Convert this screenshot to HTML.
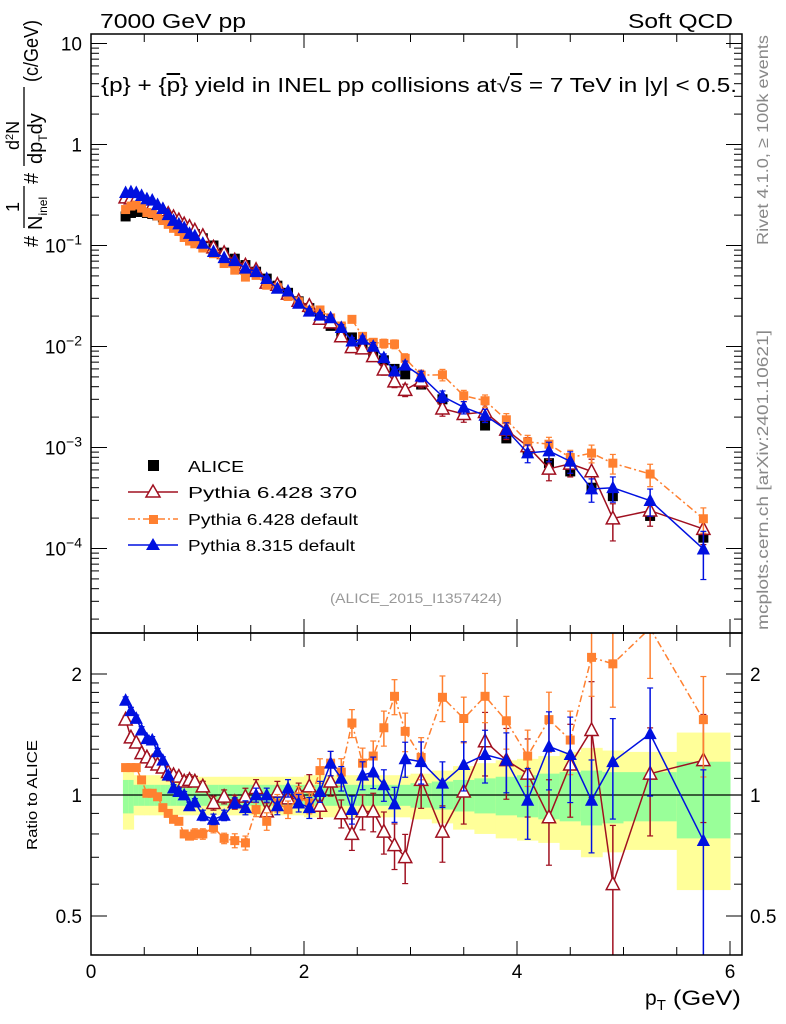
<!DOCTYPE html>
<html><head><meta charset="utf-8"><style>
html,body{margin:0;padding:0;background:#fff;}
svg{display:block;font-family:"Liberation Sans",Arial,sans-serif;}
</style></head><body>
<svg id="chart" width="786" height="1024" viewBox="0 0 786 1024">
<rect x="0" y="0" width="786" height="1024" fill="#fff"/>
<g id="bands"></g>
<g id="grid"></g>
<g id="series"></g>
<g id="axes"></g>
<text x="100" y="28" font-size="20" textLength="146" lengthAdjust="spacingAndGlyphs">7000 GeV pp</text>
<text x="628" y="28" font-size="20" textLength="105" lengthAdjust="spacingAndGlyphs">Soft QCD</text>
<text x="101" y="92" font-size="20" textLength="636" lengthAdjust="spacingAndGlyphs">{p} + {<tspan text-decoration="overline">p</tspan>} yield in INEL pp collisions at√<tspan text-decoration="overline">s</tspan> =  7 TeV in |y| &lt; 0.5.</text>
<text transform="translate(768,245) rotate(-90)" font-size="16" fill="#888" textLength="210" lengthAdjust="spacingAndGlyphs">Rivet 4.1.0, ≥ 100k events</text>
<text transform="translate(768,630) rotate(-90)" font-size="16" fill="#888" textLength="300" lengthAdjust="spacingAndGlyphs">mcplots.cern.ch [arXiv:2401.10621]</text>
<text x="330" y="603" font-size="14" fill="#999" textLength="172" lengthAdjust="spacingAndGlyphs">(ALICE_2015_I1357424)</text>
<g transform="rotate(-90)" font-size="20">
<text x="-247" y="38">#</text>
<text x="-212" y="19" font-size="18">1</text>
<line x1="-228" y1="24" x2="-186" y2="24" stroke="#000" stroke-width="1.3"/>
<text x="-230" y="42">N<tspan font-size="12" dy="5">inel</tspan></text>
<text x="-184" y="38">#</text>
<text x="-150" y="19" font-size="18">d<tspan font-size="11" dy="-6">2</tspan><tspan dy="6">N</tspan></text>
<line x1="-166" y1="24" x2="-87" y2="24" stroke="#000" stroke-width="1.3"/>
<text x="-164" y="42">dp<tspan font-size="12" dy="5">T</tspan><tspan dy="-5">dy</tspan></text>
<text x="-82" y="38" textLength="62" lengthAdjust="spacingAndGlyphs">(c/GeV)</text>
</g>
<text transform="translate(37,850) rotate(-90)" font-size="15" textLength="110" lengthAdjust="spacingAndGlyphs">Ratio to ALICE</text>
<text x="645" y="1005" font-size="21">p<tspan font-size="15" dy="5">T</tspan><tspan dy="-5" textLength="75" lengthAdjust="spacingAndGlyphs"> (GeV)</tspan></text>
<g id="legend">
<rect x="148" y="460" width="11" height="11" fill="#000"/>
<text x="188" y="472" font-size="16" textLength="56" lengthAdjust="spacingAndGlyphs">ALICE</text>
<line x1="128" y1="492" x2="178" y2="492" stroke="#a01020" stroke-width="1.5"/>
<polygon points="153,485 160,497 146,497" fill="#fff" stroke="#a01020" stroke-width="1.5"/>
<text x="188" y="498" font-size="16" textLength="169" lengthAdjust="spacingAndGlyphs">Pythia 6.428 370</text>
<line x1="128" y1="519" x2="178" y2="519" stroke="#ff8030" stroke-width="1.5" stroke-dasharray="7,3,2,3"/>
<rect x="149" y="515" width="9" height="9" fill="#ff8030"/>
<text x="188" y="525" font-size="16" textLength="170" lengthAdjust="spacingAndGlyphs">Pythia 6.428 default</text>
<line x1="128" y1="545" x2="178" y2="545" stroke="#0010e0" stroke-width="1.5"/>
<polygon points="153,538 160,550 146,550" fill="#0010e0"/>
<text x="188" y="551" font-size="16" textLength="167" lengthAdjust="spacingAndGlyphs">Pythia 8.315 default</text>
</g>
</svg>
<script>
const edges=[0.3,0.35,0.4,0.45,0.5,0.55,0.6,0.65,0.7,0.75,0.8,0.85,0.9,0.95,1.0,1.1,1.2,1.3,1.4,1.5,1.6,1.7,1.8,1.9,2.0,2.1,2.2,2.3,2.4,2.5,2.6,2.7,2.8,2.9,3.0,3.2,3.4,3.6,3.8,4.0,4.2,4.4,4.6,4.8,5.0,5.5,6.0];
const alice=[0.194,0.21,0.215,0.215,0.21,0.205,0.198,0.19,0.18,0.17,0.16,0.15,0.14,0.13,
0.118,0.100,0.085,0.074,0.064,0.055,0.047,0.040,0.034,0.028,
0.024,0.020,0.016,0.014,0.0123,0.0105,0.0088,0.0073,0.006,0.0053,
0.0042,0.0030,0.0021,0.00165,0.00123,0.00091,0.00070,0.00058,0.00040,0.00033,0.00021,0.000128];
const ratioP8=[1.72,1.62,1.55,1.45,1.38,1.37,1.28,1.22,1.12,1.04,1.02,1.0,0.94,0.96,
0.89,0.87,0.89,0.955,0.93,1.0,1.0,0.94,1.04,0.955,
0.93,1.02,1.20,1.10,0.92,1.12,1.14,1.06,0.95,1.23,
1.21,1.07,1.19,1.26,1.22,0.97,1.32,1.26,0.97,1.21,1.42,0.77];
const ratioP6a=[1.54,1.39,1.35,1.27,1.24,1.21,1.19,1.17,1.14,1.12,1.11,1.08,1.09,1.08,
1.05,0.955,0.99,0.96,0.99,1.04,0.91,1.02,0.98,1.01,
1.05,0.94,1.08,0.90,0.80,0.91,0.91,0.81,0.75,0.70,
1.09,0.81,1.02,1.36,1.22,1.13,0.88,1.19,1.45,0.60,1.13,1.22];
const ratioP6d=[1.17,1.17,1.17,1.09,1.01,1.01,0.99,0.93,0.90,0.87,0.86,0.80,0.79,0.80,
0.80,0.83,0.78,0.77,0.76,0.92,0.86,0.955,0.92,0.99,
0.955,1.15,1.2,1.14,1.51,1.20,1.25,1.47,1.76,1.44,
1.24,1.75,1.55,1.76,1.53,1.25,1.54,1.37,2.2,2.12,2.6,1.54];
const errP8=[0.02,0.02,0.02,0.02,0.02,0.02,0.02,0.02,0.02,0.02,0.02,0.02,0.02,0.02,
0.03,0.03,0.03,0.03,0.04,0.04,0.04,0.05,0.05,0.05,
0.06,0.06,0.07,0.07,0.08,0.08,0.09,0.09,0.10,0.10,
0.12,0.13,0.14,0.15,0.17,0.20,0.22,0.24,0.26,0.28,0.30,0.50];
const errP6a=[0.02,0.02,0.02,0.02,0.02,0.02,0.02,0.02,0.02,0.02,0.02,0.03,0.03,0.03,
0.03,0.04,0.04,0.04,0.05,0.05,0.05,0.06,0.06,0.06,
0.07,0.07,0.08,0.08,0.09,0.10,0.11,0.12,0.13,0.14,
0.15,0.16,0.17,0.18,0.20,0.22,0.24,0.26,0.32,0.40,0.30,0.30];
const errP6d=[0.02,0.02,0.02,0.02,0.02,0.02,0.02,0.02,0.02,0.02,0.02,0.02,0.02,0.03,
0.03,0.03,0.03,0.04,0.04,0.04,0.05,0.05,0.05,0.06,
0.06,0.07,0.07,0.08,0.08,0.09,0.09,0.10,0.10,0.11,
0.12,0.13,0.13,0.14,0.15,0.16,0.17,0.18,0.20,0.22,0.25,0.28];
const yelHi=[1.14,1.14,1.12,1.12,1.12,1.12,1.12,1.12,1.12,1.12,1.12,1.12,1.12,1.12,
1.11,1.11,1.11,1.11,1.11,1.11,1.11,1.11,1.11,1.11,
1.12,1.12,1.12,1.12,1.12,1.12,1.12,1.12,1.12,1.12,
1.13,1.15,1.18,1.20,1.22,1.23,1.25,1.28,1.31,1.29,1.28,1.43];
const yelLo=[0.82,0.82,0.89,0.89,0.89,0.89,0.89,0.89,0.89,0.89,0.89,0.89,0.89,0.89,
0.89,0.89,0.89,0.89,0.89,0.89,0.89,0.89,0.89,0.89,
0.88,0.88,0.88,0.88,0.88,0.88,0.88,0.88,0.88,0.88,
0.87,0.85,0.82,0.80,0.78,0.77,0.76,0.73,0.70,0.72,0.73,0.58];
const grnHi=[1.09,1.09,1.06,1.06,1.06,1.06,1.06,1.06,1.06,1.06,1.06,1.06,1.06,1.06,
1.06,1.06,1.06,1.06,1.06,1.06,1.06,1.06,1.06,1.06,
1.06,1.06,1.06,1.06,1.06,1.06,1.06,1.06,1.06,1.06,
1.07,1.08,1.09,1.10,1.11,1.12,1.13,1.14,1.15,1.14,1.14,1.21];
const grnLo=[0.90,0.90,0.94,0.94,0.94,0.94,0.94,0.94,0.94,0.94,0.94,0.94,0.94,0.94,
0.94,0.94,0.94,0.94,0.94,0.94,0.94,0.94,0.94,0.94,
0.94,0.94,0.94,0.94,0.94,0.94,0.94,0.94,0.94,0.94,
0.93,0.92,0.91,0.90,0.89,0.88,0.87,0.86,0.84,0.85,0.86,0.78];
const xTicks=[0,2,4,6];
const yTopTicks=[10,1,0.1,0.01,0.001,0.0001];
const yTopLabels=["10","1","10^-1","10^-2","10^-3","10^-4"];
const ratioTicks=[0.5,1,2];
const ratioLabels=["0.5","1","2"];

const NS="http://www.w3.org/2000/svg";
const L=91,R=742,T=34,M=633,B=955;
const X=v=>L+v*106.5;
const YT=v=>144.5-101*Math.log10(v);
const YR=r=>795-121*Math.log2(r);
function mk(tag,attrs,parent){const e=document.createElementNS(NS,tag);for(const k in attrs)e.setAttribute(k,attrs[k]);parent.appendChild(e);return e;}
const gB=document.getElementById('bands'),gS=document.getElementById('series'),gA=document.getElementById('axes');
const pt=alice.map((_,i)=>(edges[i]+edges[i+1])/2);

for(let i=0;i<alice.length;i++){
  const x0=X(edges[i]),x1=X(edges[i+1]);
  const y=mk('rect',{x:x0,y:YR(yelHi[i]),width:x1-x0+0.5,height:YR(yelLo[i])-YR(yelHi[i]),fill:'#ffff99'},gB);
  
  
  const g=mk('rect',{x:x0,y:YR(grnHi[i]),width:x1-x0+0.5,height:YR(grnLo[i])-YR(grnHi[i]),fill:'#99ff99'},gB);
  
  
}
const one=mk('line',{x1:L,x2:R,y1:YR(1),y2:YR(1),stroke:'#000','stroke-width':1.3},gB);



const defs=mk('defs',{},document.getElementById('chart'));
const c1=mk('clipPath',{id:'ctop'},defs);mk('rect',{x:L,y:T,width:R-L,height:M-T},c1);
const c2=mk('clipPath',{id:'crat'},defs);mk('rect',{x:L,y:M,width:R-L,height:B-M},c2);

function tri(g,x,y,s,fill,stroke){return mk('polygon',{points:`${x},${y-s*0.6} ${x+s*0.55},${y+s*0.45} ${x-s*0.55},${y+s*0.45}`,fill:fill,stroke:stroke,'stroke-width':1.5},g);}
function drawSeries(name,ratio,err,color,dash,marker,panel){
  const top=panel==='top';
  const g=mk('g',{'clip-path':top?'url(#ctop)':'url(#crat)'},gS);
  
  
  const val=i=>top?alice[i]*ratio[i]:ratio[i];
  const Y=top?YT:YR;
  if(color!=='#000'){
    const d=pt.map((p,i)=>(i?'L':'M')+X(p).toFixed(1)+','+Y(val(i)).toFixed(1)).join(' ');
    const ln=mk('path',{d:d,fill:'none',stroke:color,'stroke-width':1.5},g);
    if(dash)ln.setAttribute('stroke-dasharray',dash);
    
    
  }
  pt.forEach((p,i)=>{
    const x=X(p),v=val(i),e=err[i];
    if(e>0){
      const y1=Y(v*(1+e)),y2=Y(Math.max(v*(1-e),v*0.05));
      mk('line',{x1:x,x2:x,y1:y1,y2:y2,stroke:color,'stroke-width':1.5},g);
      mk('line',{x1:x-3,x2:x+3,y1:y1,y2:y1,stroke:color,'stroke-width':1.2},g);
      mk('line',{x1:x-3,x2:x+3,y1:y2,y2:y2,stroke:color,'stroke-width':1.2},g);
    }
    let m;
    const y=Y(v);
    if(marker==='sq')m=mk('rect',{x:x-5,y:y-5,width:10,height:10,fill:color},g);
    else if(marker==='sqs')m=mk('rect',{x:x-4.5,y:y-4.5,width:9,height:9,fill:color},g);
    else if(marker==='ot')m=tri(g,x,y,12,'#fff',color);
    else m=tri(g,x,y,12,color,'none');
    
    
  });
}
const aliceOnes=alice.map(()=>1);
const aliceErr=alice.map(()=>0);
drawSeries('alice',aliceOnes,aliceErr,'#000',null,'sq','top');
drawSeries('pythia6-370',ratioP6a,errP6a,'#a01020',null,'ot','top');
drawSeries('pythia6-default',ratioP6d,errP6d,'#ff8030','7,3,2,3','sqs','top');
drawSeries('pythia8',ratioP8,errP8,'#0010e0',null,'ft','top');
drawSeries('pythia6-370',ratioP6a,errP6a,'#a01020',null,'ot','ratio');
drawSeries('pythia6-default',ratioP6d,errP6d,'#ff8030','7,3,2,3','sqs','ratio');
drawSeries('pythia8',ratioP8,errP8,'#0010e0',null,'ft','ratio');

[[T,M],[M,B]].forEach(([a,b],k)=>{
  const f=mk('rect',{x:L,y:a,width:R-L,height:b-a,fill:'none',stroke:'#000','stroke-width':1.5},gA);
  
  
});
for(let v=0;v<=6.5;v+=0.5){
  const x=X(v);if(x>R)continue;
  const major=xTicks.includes(v);
  const h=major?14:8;
  [T,M].forEach(y=>mk('line',{x1:x,x2:x,y1:y,y2:y+h,stroke:'#000','stroke-width':1},gA));
  [M,B].forEach(y=>mk('line',{x1:x,x2:x,y1:y,y2:y-h,stroke:'#000','stroke-width':1},gA));
}
xTicks.forEach(v=>{
  const t=mk('text',{x:X(v),y:978,'font-size':19,'text-anchor':'middle'},gA);
  t.textContent=String(v);
  
  
});
for(let d=-5;d<=1;d++){for(let m=1;m<10;m++){
  const v=m*Math.pow(10,d);const y=YT(v);if(y<T||y>M)continue;
  const h=m===1?16:8;
  mk('line',{x1:L,x2:L+h,y1:y,y2:y,stroke:'#000','stroke-width':1},gA);
  mk('line',{x1:R,x2:R-h,y1:y,y2:y,stroke:'#000','stroke-width':1},gA);
}}
yTopTicks.forEach((v,i)=>{
  const t=mk('text',{x:82,y:YT(v)+7,'font-size':19,'text-anchor':'end'},gA);
  const parts=yTopLabels[i].split('^');
  if(parts.length>1){t.textContent=parts[0];const s=mk('tspan',{dy:-8,'font-size':14},t);s.textContent=parts[1].replace('-','−');}
  else t.textContent=parts[0];
  
  
});
[0.4,0.5,0.6,0.7,0.8,0.9,1,2].forEach(v=>{
  const y=YR(v);const h=(v===0.5||v===1||v===2)?16:8;
  mk('line',{x1:L,x2:L+h,y1:y,y2:y,stroke:'#000','stroke-width':1},gA);
  mk('line',{x1:R,x2:R-h,y1:y,y2:y,stroke:'#000','stroke-width':1},gA);
});
[1.1,1.2,1.3,1.4,1.5,1.6,1.7,1.8,1.9].forEach(v=>{
  const y=YR(v);
  mk('line',{x1:L,x2:L+8,y1:y,y2:y,stroke:'#000','stroke-width':1},gA);
  mk('line',{x1:R,x2:R-8,y1:y,y2:y,stroke:'#000','stroke-width':1},gA);
});
ratioTicks.forEach((v,i)=>{
  const t=mk('text',{x:82,y:YR(v)+7,'font-size':19,'text-anchor':'end'},gA);
  t.textContent=ratioLabels[i];
  
  
  const t2=mk('text',{x:750,y:YR(v)+7,'font-size':19},gA);
  t2.textContent=ratioLabels[i];
  
  
});
</script>
</body></html>
